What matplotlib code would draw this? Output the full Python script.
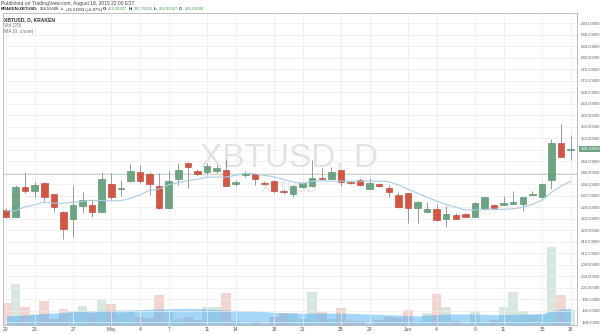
import numpy as np
import pandas as pd
import matplotlib
matplotlib.use("Agg")
import matplotlib.pyplot as plt

plt.rcParams['font.family'] = ['Liberation Sans', 'DejaVu Sans']

# daily candles, Apr 20 - Jun 18 2015
dates = pd.date_range('2015-04-20', periods=60)
opens = [226.9, 224.6, 234.9, 233.5, 236.2, 232.5, 226.4, 223.9, 228.2, 228.6,
         226.3, 236.0, 234.2, 237.1, 240.1, 239.4, 235.2, 227.8, 237.8, 243.3,
         240.4, 240.1, 240.6, 240.9, 235.9, 239.0, 239.6, 236.5, 236.9, 233.7,
         232.6, 234.85, 235.3, 238.2, 237.8, 240.8, 236.7, 237.3, 234.4, 236.1,
         234.6, 232.1, 232.8, 227.8, 226.4, 227.3, 223.8, 225.1, 225.6, 224.6,
         227.2, 228.7, 228.8, 229.1, 229.1, 232.3, 231.6, 237.4, 250.2, 247.8]
highs = [227.5, 235.7, 240.3, 236.8, 236.8, 232.6, 226.5, 235.7, 233.3, 230.4,
         240.3, 239.7, 237.4, 243.0, 242.6, 240.3, 239.7, 240.5, 243.4, 243.8,
         241.2, 243.3, 242.6, 244.3, 237.4, 240.6, 240.0, 237.0, 237.5, 234.1,
         235.5, 236.8, 244.3, 241.5, 241.8, 241.0, 237.1, 238.0, 238.2, 236.4,
         235.8, 233.2, 233.0, 230.0, 229.7, 229.0, 228.5, 225.9, 226.0, 229.7,
         231.6, 228.9, 231.8, 233.6, 231.6, 233.6, 236.2, 251.5, 256.9, 253.0]
lows = [224.1, 224.4, 232.8, 231.6, 229.8, 226.4, 216.9, 217.7, 225.8, 224.4,
        226.2, 230.4, 231.8, 236.8, 236.2, 232.2, 227.4, 227.3, 235.7, 234.5,
        238.8, 239.5, 239.8, 235.3, 235.3, 238.4, 235.7, 235.6, 232.8, 232.5,
        231.6, 234.5, 235.1, 237.6, 237.6, 235.3, 235.9, 235.3, 234.3, 234.9,
        231.4, 227.7, 222.5, 222.5, 226.2, 223.3, 220.9, 223.7, 224.4, 224.4,
        227.0, 227.0, 228.6, 228.9, 226.7, 232.1, 231.4, 234.3, 245.3, 244.3]
closes = [224.6, 234.8, 233.6, 235.6, 231.4, 227.9, 220.5, 228.6, 230.3, 226.3,
          237.6, 231.6, 234.6, 240.6, 237.1, 235.9, 227.5, 236.9, 240.8, 242.0,
          239.6, 242.3, 241.6, 235.4, 236.8, 239.7, 237.8, 236.1, 233.7, 233.1,
          235.2, 236.5, 238.0, 237.8, 240.1, 236.6, 236.3, 235.8, 236.3, 235.2,
          233.2, 227.9, 227.8, 229.8, 227.4, 223.5, 225.5, 223.9, 224.6, 229.5,
          231.4, 227.8, 229.3, 229.8, 231.4, 232.5, 236.0, 250.2, 245.5, 248.2]
ma9 = [226.7, 226.7, 228.1, 228.7, 229.8, 229.3, 229.3, 229.6, 230.0, 230.3,
       230.3, 230.1, 230.2, 231.0, 232.2, 233.9, 234.2, 235.7, 236.5, 237.2,
       237.6, 238.4, 238.4, 238.4, 239.0, 239.7, 239.5, 239.0, 238.5, 237.6,
       236.7, 236.2, 236.9, 237.1, 237.0, 237.0, 237.0, 237.0, 237.0, 237.0,
       236.8, 235.7, 234.2, 232.8, 231.4, 230.1, 228.9, 227.9, 227.0, 227.0,
       227.2, 227.2, 227.2, 227.4, 227.9, 228.9, 230.4, 233.1, 235.3, 236.9]
volume = [2230, 4070, 1800, 1100, 2400, 570, 1630, 1400, 1900, 1230,
          2600, 2100, 1230, 1330, 800, 700, 2970, 1330, 630, 800,
          500, 1770, 1770, 3200, 400, 100, 270, 100, 830, 1200,
          1200, 570, 3300, 1300, 570, 1670, 430, 400, 100, 500,
          800, 670, 1500, 300, 1200, 3070, 1770, 400, 100, 1430,
          200, 530, 1830, 3300, 1400, 1000, 1000, 7770, 3030, 1500]
vol_ma = [900, 950, 1000, 1050, 1150, 1200, 1250, 1350, 1400, 1450,
          1470, 1500, 1500, 1500, 1550, 1570, 1600, 1630, 1650, 1670,
          1650, 1600, 1550, 1500, 1470, 1450, 1400, 1330, 1270, 1230,
          1200, 1170, 1200, 1200, 1200, 1170, 1170, 1130, 1100, 1070,
          1030, 1000, 950, 900, 1000, 1050, 1100, 1100, 1100, 1100,
          1070, 1030, 1050, 1080, 1100, 1120, 1150, 1400, 1600, 1670]
tick_idx = [0, 3, 7, 11, 14, 17, 21, 24, 28, 31, 35, 38, 42, 45, 49, 52, 56, 59]
tick_labels = ['20', '23', '27', 'May', '4', '7', '11', '14', '18',
               '21', '25', '28', 'Jun', '4', '8', '11', '15', '18']

W, H = 600, 334
fig = plt.figure(figsize=(6, 3.34), dpi=100)
fig.patch.set_facecolor('white')

ax = fig.add_axes([3 / W, 9 / H, 574 / W, 312 / H])
x = np.arange(len(dates))
o = np.array(opens); c = np.array(closes)
up = c >= o
up_col, dn_col = '#6ba583', '#d75442'
cols = np.where(up, up_col, dn_col)
edges = np.where(up, '#4f8a66', '#b8402f')

# volume on a hidden twin axis
axv = ax.twinx()
axv.bar(x, volume, width=1.0, color=cols, alpha=0.25, zorder=1)
axv.fill_between(x, 0, vol_ma, color='#4aaef2', alpha=0.5, lw=0, zorder=2)
axv.set_ylim(0, 31200)
axv.set_yticks([])
for s in axv.spines.values():
    s.set_visible(False)
axv.set_zorder(ax.get_zorder() - 1)
ax.patch.set_visible(False)

# grid + extra line
ax.set_xlim(-0.3135, 59.666)
ax.set_ylim(186.96, 295.48)
ax.set_yticks(np.arange(188, 293, 4))
ax.set_yticklabels(['%.5f' % v for v in np.arange(188, 293, 4)])
ax.set_xticks(tick_idx)
ax.set_xticklabels(tick_labels)
ax.grid(True, color='#ececec', lw=0.5)
ax.set_axisbelow(True)
ax.axhline(239.4, color='#c9d8cd', lw=0.8, zorder=1)

# watermark
ax.text(0.498, 0.535, 'XBTUSD, D', transform=ax.transAxes,
        fontsize=24, color='#e2e2e2', ha='center', va='center', zorder=0)
ax.text(0.498, 0.44, 'XBTUSD', transform=ax.transAxes,
        fontsize=10, color='#e2e2e2', ha='center', va='center', zorder=0)

# candles
ax.vlines(x, lows, highs, color='#8a8a8c', lw=0.6, zorder=3)
body = c - o
body = np.where(np.abs(body) < 0.35, np.where(up, 0.35, -0.35), body)
ax.bar(x, body, bottom=o, width=0.68, color=cols, edgecolor=edges,
       lw=0.4, zorder=4)
ax.plot(x, ma9, color='#a8cde4', lw=0.8, zorder=5)

ax.yaxis.tick_right()
ax.tick_params(axis='y', length=0, labelsize=3.1, colors='#666666', pad=3)
ax.tick_params(axis='x', length=0, labelsize=3.6, colors='#555555', pad=1.2)
for s in ax.spines.values():
    s.set_color('#b5b5b5')
    s.set_linewidth(0.6)

# last price tag
last = closes[-1]
ax.annotate('%.5f' % last, xy=(1.0, last), xycoords=('axes fraction', 'data'),
            xytext=(2.5, 0), textcoords='offset points', va='center', ha='left',
            fontsize=3.1, color='white', annotation_clip=False,
            bbox=dict(boxstyle='square,pad=0.25', fc='#6ba583', ec='none'))

# header texts
def ftxt(px, py, s, **kw):
    return fig.text(px / W, 1 - py / H, s, va='center', ha='left', **kw)

ftxt(1, 3.5, 'Published on TradingView.com, August 18, 2015 22:00 EST',
     fontsize=3.6, color='#444444')

# second line: segments laid out one after another
green = '#3fa24a'
dark = '#222222'
segs = [('KRAKEN:XBTUSD:', dark, 'bold'), ('238.53680', dark, 'normal'),
        ('\u25b2', green, 'normal'), ('+15.51833 (+6.97%)', dark, 'normal'),
        ('O:', dark, 'bold'), ('224.39327', green, 'normal'),
        ('H:', dark, 'bold'), ('230.76033', green, 'normal'),
        ('L:', dark, 'bold'), ('224.39327', green, 'normal'),
        ('C:', dark, 'bold'), ('238.53680', green, 'normal')]
renderer = fig.canvas.get_renderer()
px = 1.0
for s, col, wt in segs:
    t = ftxt(px, 9.5, s, fontsize=3.0, color=col, weight=wt)
    px += t.get_window_extent(renderer).width + 1.0

ftxt(4, 19.5, 'XBTUSD, D, KRAKEN', fontsize=3.6, color='#333333', weight='bold')
ftxt(4, 25.5, 'Vol (20)', fontsize=3.6, color='#777777')
ftxt(4, 31.5, 'MA (9, close)', fontsize=3.6, color='#777777')

fig.savefig('out.png', dpi=100)
